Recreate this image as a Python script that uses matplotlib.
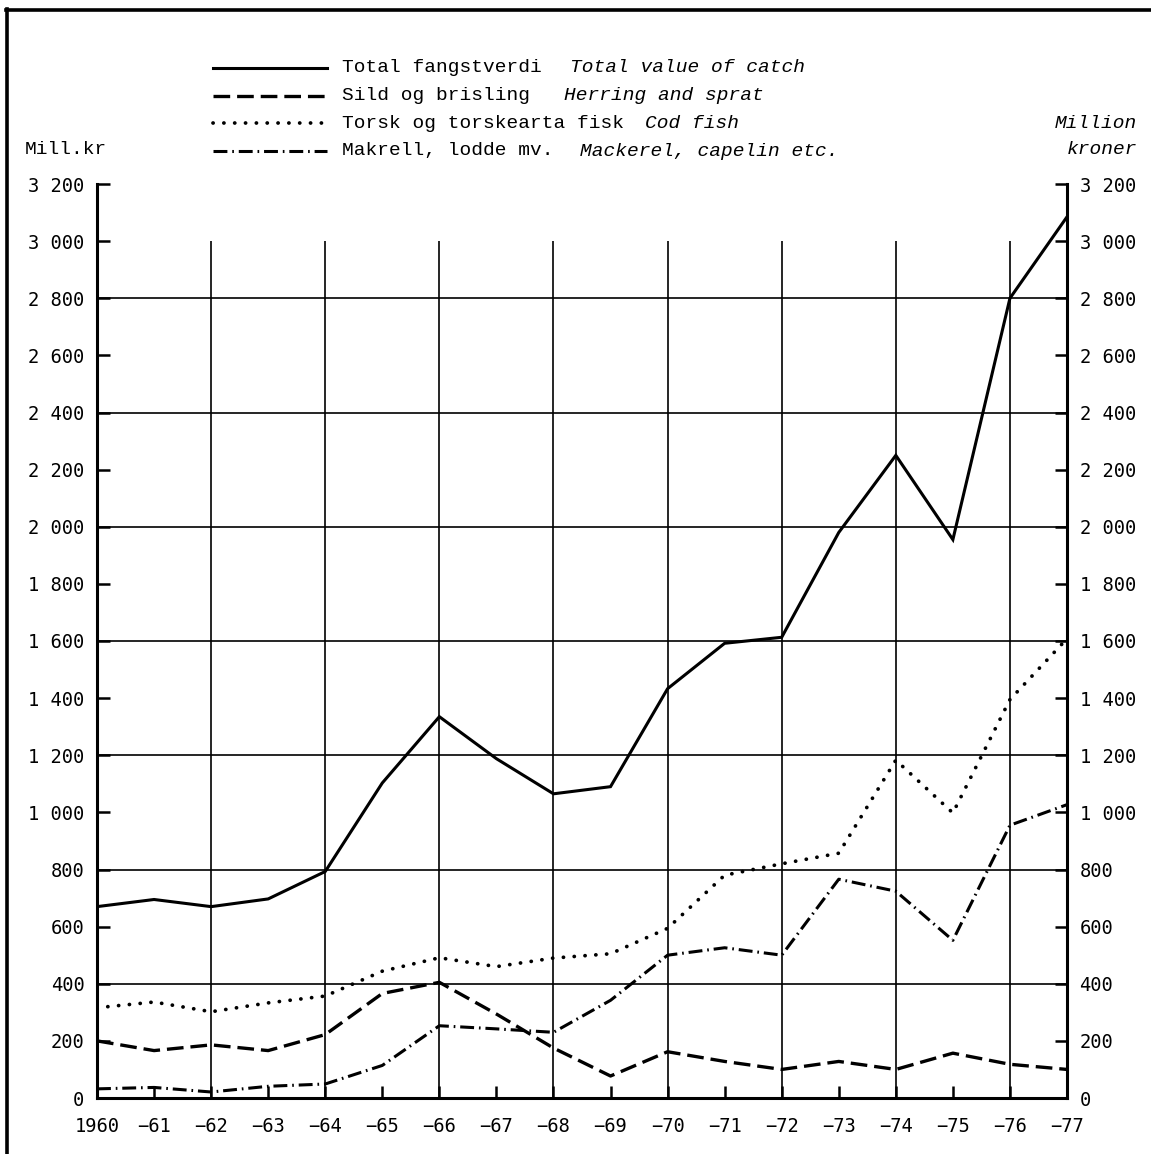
import matplotlib
matplotlib.use("Agg")
import matplotlib.pyplot as plt
from matplotlib.lines import Line2D

# values in million kroner
years = list(range(1960, 1978))
total = [670, 695, 670, 697, 793, 1103, 1335, 1188, 1065, 1090, 1433, 1592, 1613, 1980, 2250, 1955, 2800, 3085]
herring = [200, 166, 186, 166, 222, 366, 405, 294, 175, 77, 162, 128, 100, 128, 100, 157, 118, 100]
cod = [316, 336, 302, 333, 357, 444, 491, 460, 490, 505, 594, 780, 820, 857, 1183, 998, 1395, 1608]
mackerel = [32, 37, 21, 41, 49, 114, 253, 242, 230, 342, 500, 526, 500, 766, 724, 552, 955, 1027]

names_no = ["Total fangstverdi", "Sild og brisling", "Torsk og torskearta fisk", "Makrell, lodde mv."]
names_en = ["Total value of catch", "Herring and sprat", "Cod fish", "Mackerel, capelin etc."]

x_labels = ["1960"] + ["\u2212%02d" % (y % 100) for y in years[1:]]
y_ticks = list(range(0, 3201, 200))
y_labels = [f"{v:,}".replace(",", " ") for v in y_ticks]

W, H = 1151, 1154
plt.rcParams["lines.scale_dashes"] = False
MONO = "Liberation Mono"
NUM = "DejaVu Sans Mono"

fig = plt.figure(figsize=(W / 100, H / 100), dpi=100)
ax = fig.add_axes([97 / W, 1 - 1098 / H, 970 / W, 914 / H])

styles = [
    dict(ls="-", lw=2.2),
    dict(ls=(0, (12, 5)), lw=2.4),
    dict(ls=(0, (0.1, 7.7)), lw=2.7, dash_capstyle="round"),
    dict(ls=(0, (10, 3.5, 1.2, 3.5)), lw=2.2),
]

for vals, st in zip([total, herring, cod, mackerel], styles):
    ax.plot(years, vals, color="black", solid_joinstyle="miter", **st)

# grid
for v in range(400, 3000, 400):
    ax.axhline(v, color="black", lw=1.2, zorder=1)
ax.vlines([y for y in years if y % 2 == 0 and years[0] < y < years[-1]], 0, 3000,
          color="black", lw=1.2, zorder=1)

ax.set_xlim(years[0], years[-1])
ax.set_ylim(0, 3200)
ax.spines["top"].set_visible(False)
for s in ["left", "right", "bottom"]:
    ax.spines[s].set_linewidth(2.2)

ax.set_xticks(years)
ax.set_xticklabels(x_labels, family=NUM, fontsize=13.5)
ax.tick_params(axis="x", direction="in", length=9, width=1.8, pad=14)

ax.set_yticks(y_ticks)
ax.set_yticklabels(y_labels, family=NUM, fontsize=13.5)
ax.tick_params(axis="y", direction="in", length=9, width=1.8, left=True, right=True,
               labelleft=True, labelright=True, pad=9)

# legend
rows = [68, 96, 123, 151]
gaps = [2.5, 3, 2, 2.4]
adv = 0.6 * 14 * 100 / 72
for r, st, no, en, g in zip(rows, styles, names_no, names_en, gaps):
    yy = 1 - r / H
    fig.add_artist(Line2D([213 / W, 327 / W], [yy, yy], color="black", **st))
    fig.text(342 / W, yy, no, family=MONO, fontsize=14, va="center")
    fig.text((342 + (len(no) + g) * adv) / W, yy, en, family=MONO, style="italic",
             fontsize=14, va="center")

fig.text(25 / W, 1 - 150 / H, "Mill.kr", family=MONO, fontsize=14, va="center")
fig.text(1137 / W, 1 - 124 / H, "Million", family=MONO, style="italic", fontsize=14,
         va="center", ha="right")
fig.text(1137 / W, 1 - 150 / H, "kroner", family=MONO, style="italic", fontsize=14,
         va="center", ha="right")

# page frame
fig.add_artist(Line2D([7 / W, 7 / W], [0, 1 - 9 / H], color="black", lw=2.6))
fig.add_artist(Line2D([6 / W, 1], [1 - 10 / H, 1 - 10 / H], color="black", lw=2.6))

fig.savefig("out.png", dpi=100)
